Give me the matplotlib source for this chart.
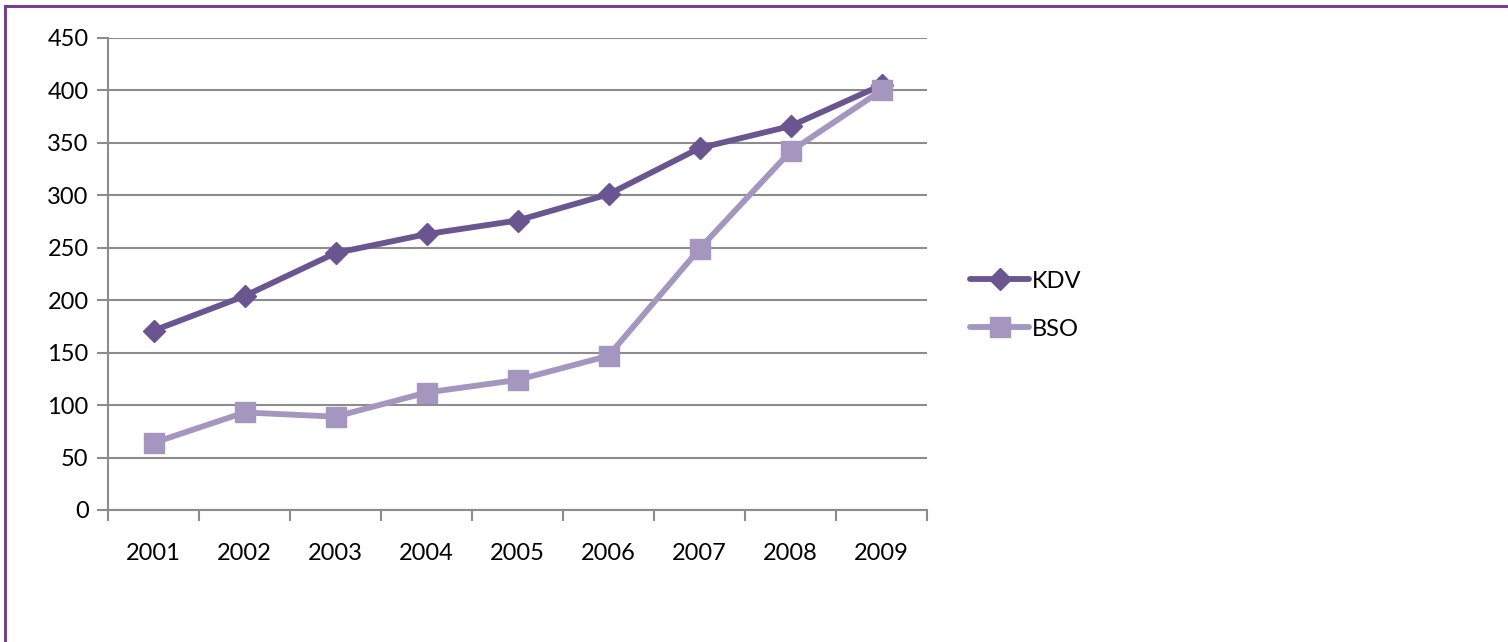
import matplotlib
matplotlib.use("Agg")
import matplotlib.pyplot as plt
from matplotlib.patches import Rectangle
import numpy as np

years = ['2001', '2002', '2003', '2004', '2005', '2006', '2007', '2008', '2009']
kdv = [171, 204, 245, 263, 276, 301, 345, 366, 405]
bso = [64, 93, 89, 112, 124, 147, 249, 342, 400]
yticks = [0, 50, 100, 150, 200, 250, 300, 350, 400, 450]

plt.rcParams['font.family'] = ['Lato', 'DejaVu Sans']

fig = plt.figure(figsize=(15.08, 6.42), dpi=100)
fig.patches.append(Rectangle((5 / 1508, -0.1), 1.2, 1 - 6 / 642 + 0.1,
                             transform=fig.transFigure, fill=False,
                             edgecolor='#7A3D96', linewidth=2.2))

ax = fig.add_axes([108 / 1508, 1 - 510 / 642, (927 - 108) / 1508, (510 - 38) / 642])

x = np.arange(1, len(years) + 1)
ax.plot(x, kdv, color='#6B5590', linewidth=4.2, marker='D', markersize=11,
        label='KDV', solid_capstyle='round')
ax.plot(x, bso, color='#A596C0', linewidth=4.2, marker='s', markersize=14,
        label='BSO', solid_capstyle='round')

ax.set_xlim(0.5, len(years) + 0.5)
ax.set_ylim(0, 450)
ax.set_yticks(yticks)
ax.set_yticklabels([str(v) for v in yticks], fontsize=17)
ax.set_xticks(np.arange(0.5, len(years) + 1, 1))
ax.set_xticklabels([])
ax.set_xticks(x, minor=True)
ax.set_xticklabels(years, minor=True, fontsize=17)
ax.tick_params(axis='x', which='minor', length=0, pad=24)
ax.tick_params(axis='x', which='major', length=8, width=1.5, color='#8C8C8C', direction='out')
ax.tick_params(axis='y', length=8, width=1.5, color='#8C8C8C', direction='out', pad=6)

ax.grid(axis='y', color='#8C8C8C', linewidth=1.5)
ax.set_axisbelow(True)
for side in ['top', 'right']:
    ax.spines[side].set_visible(False)
for side in ['left', 'bottom']:
    ax.spines[side].set_color('#8C8C8C')
    ax.spines[side].set_linewidth(1.5)

ax.legend(loc='center left', bbox_to_anchor=(1.027, 0.434), frameon=False,
          fontsize=17, handlelength=2.5, handletextpad=0.1, labelspacing=1.15,
          borderpad=0.4)

fig.savefig('out.png', dpi=100)
